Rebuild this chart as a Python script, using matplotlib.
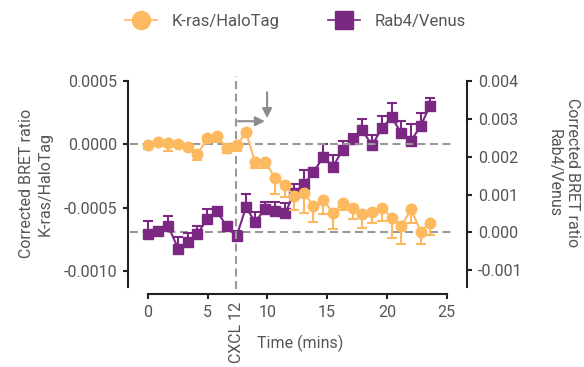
import numpy as np
import matplotlib
matplotlib.use("Agg")
import matplotlib.pyplot as plt
from matplotlib.lines import Line2D

plt.rcParams['font.family'] = ['Roboto', 'DejaVu Sans']

# time points (mins)
time = [0.0, 0.89, 1.72, 2.56, 3.39, 4.15, 4.98, 5.77, 6.61, 7.44,
        8.22, 8.97, 9.81, 10.64, 11.48, 12.26, 13.07, 13.85, 14.68, 15.49,
        16.30, 17.14, 17.94, 18.75, 19.57, 20.40, 21.20, 22.02, 22.83, 23.60]

# K-ras/HaloTag corrected BRET ratio (x1e-4), lower error
kras = np.array([-0.08, 0.18, 0.08, 0.05, -0.21, -0.79, 0.47, 0.65, -0.27, -0.08,
                 0.97, -1.37, -1.37, -2.63, -3.23, -4.07, -3.81, -4.86, -4.39, -5.39,
                 -4.65, -4.99, -5.46, -5.33, -4.99, -5.78, -6.43, -5.12, -6.88, -6.17]) * 1e-4
kras_err = np.array([0.3, 0.2, 0.6, 0.2, 0.2, 0.4, 0.3, 0.45, 0.4, 0.45,
                     0.2, 0.47, 0.47, 1.26, 0.9, 1.13, 1.57, 1.26, 1.08, 1.31,
                     0.55, 0.87, 1.1, 0.89, 1.05, 1.57, 1.39, 1.06, 0.99, 0.97]) * 1e-4

# Rab4/Venus corrected BRET ratio (x1e-3), upper error
rab4 = np.array([-0.04, 0.03, 0.16, -0.44, -0.26, -0.04, 0.36, 0.56, 0.16, -0.09,
                 0.67, 0.27, 0.62, 0.56, 0.50, 1.05, 1.27, 1.59, 2.00, 1.74,
                 2.18, 2.46, 2.70, 2.30, 2.75, 3.04, 2.62, 2.42, 2.82, 3.35]) * 1e-3
rab4_err = np.array([0.33, 0.08, 0.28, 0.33, 0.25, 0.22, 0.27, 0.08, 0.08, 0.13,
                     0.35, 0.27, 0.19, 0.23, 0.28, 0.22, 0.37, 0.1, 0.33, 0.3,
                     0.24, 0.13, 0.29, 0.27, 0.33, 0.38, 0.33, 0.44, 0.34, 0.2]) * 1e-3

xticks = [0, 5, 10, 15, 20, 25]
left_ticks = [0.0005, 0.0, -0.0005, -0.0010]
right_ticks = [0.004, 0.003, 0.002, 0.001, 0.000, -0.001]
cxcl_time = 7.4

orange = '#FDB95F'
purple = '#7A2882'
grey = '#999999'
text_c = '#555555'
spine_c = '#222222'

fig = plt.figure(figsize=(5.84, 3.67), dpi=100)
ax = fig.add_axes([0.2187, 0.2193, 0.5815, 0.5600])
ax2 = ax.twinx()
ax.set_zorder(ax2.get_zorder() + 1)
ax.patch.set_visible(False)

ax.set_xlim(-1.672, 26.72)
ax.set_ylim(-0.00112, 0.0005)
ax2.set_ylim(-0.00143, 0.004)

# baselines and CXCL12 addition
ax.plot([-1.5, 25.7], [0, 0], color=grey, lw=1.5, dashes=(3.8, 2.2), zorder=1)
ax2.plot([-1.5, 25.7], [0, 0], color=grey, lw=1.5, dashes=(3.8, 2.2), zorder=1)
ax.axvline(cxcl_time, ymin=-0.01, ymax=1.025, color=grey, lw=1.5, dashes=(3.8, 2.2),
           clip_on=False, zorder=1)

ax2.errorbar(time, rab4, yerr=[np.zeros(len(rab4)), rab4_err], color=purple,
             marker='s', markersize=7.2, lw=1.5, elinewidth=1.5, capsize=3.6,
             capthick=1.5, zorder=3)
ax.errorbar(time, kras, yerr=[kras_err, np.zeros(len(kras))], color=orange,
            marker='o', markersize=7.6, lw=1.5, elinewidth=1.5, capsize=3.6,
            capthick=1.5, zorder=3)

# arrows
ax.annotate('', xy=(9.8, 1.83e-4), xytext=(7.55, 1.83e-4),
            arrowprops=dict(arrowstyle='-|>', color='#8c8c8c', lw=1.5,
                            mutation_scale=14, shrinkA=0, shrinkB=0))
ax.annotate('', xy=(9.98, 2.07e-4), xytext=(9.98, 4.11e-4),
            arrowprops=dict(arrowstyle='-|>', color='#8c8c8c', lw=1.5,
                            mutation_scale=14, shrinkA=0, shrinkB=0),
            annotation_clip=False)

for a in (ax, ax2):
    a.spines['top'].set_visible(False)
    for s in ('left', 'right', 'bottom'):
        a.spines[s].set_linewidth(1.5)
        a.spines[s].set_color(spine_c)
    a.tick_params(colors=spine_c, labelcolor=text_c, width=1.5, length=3.6,
                  labelsize=11.5, pad=4)

ax.spines['right'].set_visible(False)
ax2.spines['left'].set_visible(False)
ax2.spines['bottom'].set_visible(False)
ax.spines['bottom'].set_position(('outward', 5.4))
ax.spines['bottom'].set_bounds(0, 25)

ax.set_xticks(xticks)
ax.set_yticks(left_ticks)
ax.set_yticklabels(['%.4f' % v for v in left_ticks])
ax2.set_yticks(right_ticks)
ax2.set_yticklabels(['%.3f' % v for v in right_ticks])

ax.set_ylabel('Corrected BRET ratio\nK-ras/HaloTag', fontsize=11.5, color=text_c,
              linespacing=1.25)
ax.yaxis.set_label_coords(-0.222, 0.5)
ax2.set_ylabel('Corrected BRET ratio\nRab4/Venus', fontsize=11.5, color=text_c,
               rotation=270, linespacing=1.25, va='center')
ax2.yaxis.set_label_coords(1.283, 0.553)

ax.set_xlabel('Time (mins)', fontsize=11.5, color=text_c)
ax.xaxis.set_label_coords(0.507, -0.236)
ax.text(cxcl_time, -0.075, 'CXCL 12', transform=ax.get_xaxis_transform(),
        rotation=90, ha='center', va='top', fontsize=11.5, color=text_c)

handles = [Line2D([], [], color=orange, marker='o', markersize=13, lw=1.2),
           Line2D([], [], color=purple, marker='s', markersize=12.5, lw=1.2)]
fig.legend(handles, ['K-ras/HaloTag', 'Rab4/Venus'], loc='center',
           bbox_to_anchor=(0.506, 1 - 21.7 / 367), ncol=2, frameon=False,
           fontsize=12, handlelength=1.9, handletextpad=0.9, columnspacing=2.9,
           labelcolor=text_c)

fig.savefig('out.png', dpi=100)
